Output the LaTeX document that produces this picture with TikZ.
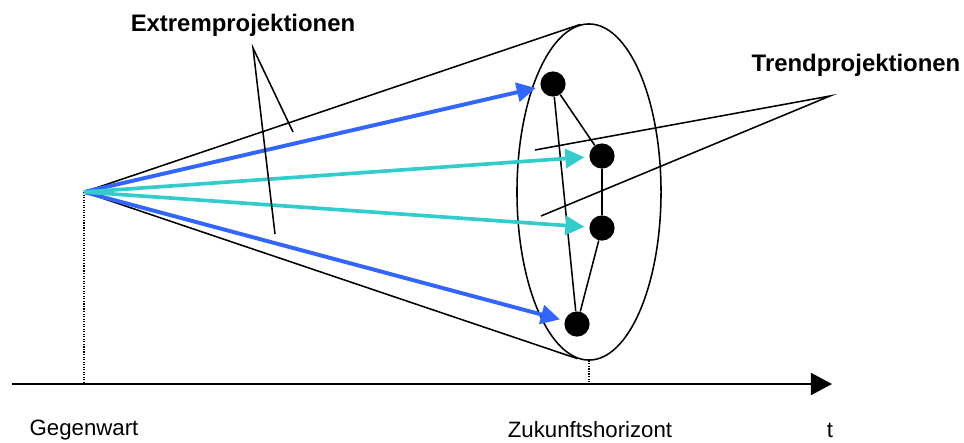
\documentclass[tikz,border=0pt]{standalone}
\usepackage{fontspec}
\setmainfont{Liberation Sans}
\usepackage{xcolor}
\usepackage{tikz}
\usetikzlibrary{arrows.meta, positioning, shapes.geometric}
\definecolor{projblue}{RGB}{51, 102, 255}
\definecolor{projcyan}{RGB}{51, 204, 204}

\begin{document}
\begin{tikzpicture}[
    x=0.025cm, y=-0.025cm,
    dot/.style={circle, fill=black, inner sep=0pt, minimum size=0.63cm},
    horizon/.style={ellipse, draw, line width=1.1pt, inner sep=0pt, minimum width=3.6cm, minimum height=8.4cm},
    extreme/.style={-{Triangle[length=13.5pt, width=13.5pt]}, line width=2.8pt, projblue, shorten >=0.12cm},
    trend/.style={-{Triangle[length=13.5pt, width=13.5pt]}, line width=2.6pt, projcyan, shorten >=0.12cm},
    hull/.style={line width=1.1pt},
    pointer/.style={line width=1.1pt},
    guide/.style={densely dotted, line width=0.8pt},
    timeaxis/.style={-{Triangle[length=15pt, width=15.6pt]}, line width=1.6pt},
    heading/.style={font=\fontsize{17}{20}\selectfont\bfseries},
    every node/.style={font=\fontsize{15.8}{18}\selectfont}
]
\useasboundingbox (0,0) rectangle (964,442);

% Zeitachse
\coordinate (gegen) at (84,192);
\coordinate (axstart) at (12,384);
\coordinate (axend) at (832,384);
\draw[timeaxis] (axstart) -- (axend);

% Horizont mit Projektionen
\node[horizon] (hor) at (589,192) {};
\node[dot] (d1) at (553,84) {};
\node[dot] (d2) at (602,156) {};
\node[dot] (d3) at (602,228) {};
\node[dot] (d4) at (577,324) {};
\draw[hull] (d1) -- (d2) -- (d3) -- (d4) -- (d1);

% Kegel
\draw[hull] (gegen) -- (hor.93.5);
\draw[hull] (gegen) -- (hor.266.5);

% Hilfslinien
\draw[guide] (gegen) -- (gegen |- axend);
\draw[guide] (hor.south) -- (hor.south |- axend);

% Projektionen
\foreach \d in {d1,d4} {
    \draw[extreme] (gegen) -- (\d);
}
\foreach \d in {d2,d3} {
    \draw[trend] (gegen) -- (\d);
}

% Beschriftungen
\node[heading] (extrem) at (243,25) {Extremprojektionen};
\node[heading] (trendlbl) at (856,65) {Trendprojektionen};
\node (gw) at (84,430) {Gegenwart};
\node (zh) at (590,430) {Zukunftshorizont};
\node (tl) at (830,430) {t};

\coordinate (exapex) at (253,48);
\coordinate (ex1) at (293,132);
\coordinate (ex2) at (275,234);
\coordinate (trapex) at (830,96);
\coordinate (tr1) at (535,150);
\coordinate (tr2) at (541,216);
\draw[pointer] (ex1) -- (exapex) -- (ex2);
\draw[pointer] (tr1) -- (trapex) -- (tr2);

\end{tikzpicture}
\end{document}
